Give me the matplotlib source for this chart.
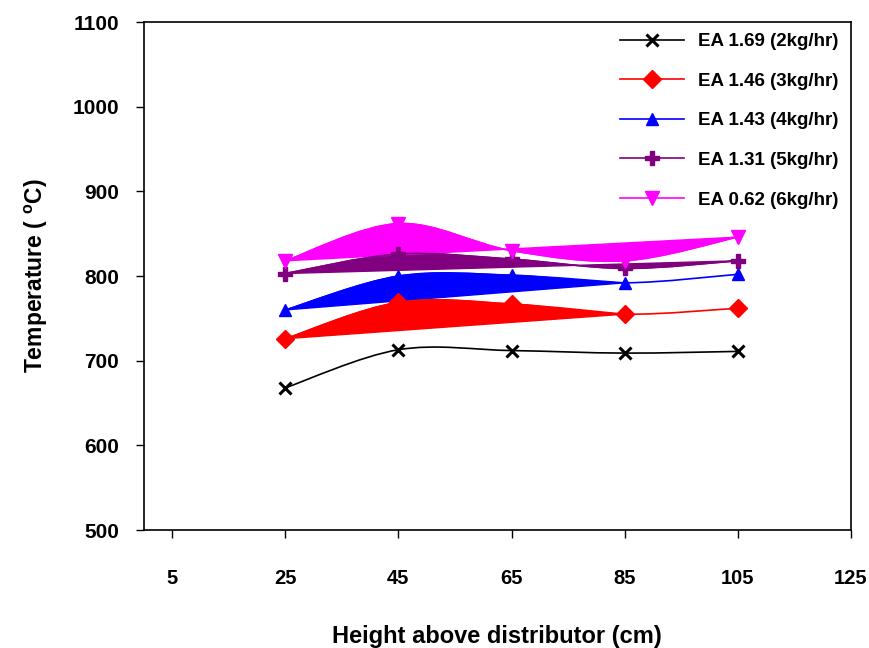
import numpy as np
import matplotlib
matplotlib.use("Agg")
import matplotlib.pyplot as plt
from matplotlib.path import Path
from matplotlib.patches import PathPatch

# data
heights = [25, 45, 65, 85, 105]
ea169 = [668, 713, 712, 709, 711]
ea146 = [726, 769, 767, 755, 762]
ea143 = [760, 800, 801, 792, 802]
ea131 = [803, 826, 820, 809, 818]
ea062 = [818, 862, 830, 818, 846]

labels = ["EA 1.69 (2kg/hr)", "EA 1.46 (3kg/hr)", "EA 1.43 (4kg/hr)",
          "EA 1.31 (5kg/hr)", "EA 0.62 (6kg/hr)"]
series = [ea169, ea146, ea143, ea131, ea062]
colors = ["black", "red", "blue", "purple", "magenta"]
markers = ["x", "D", "^", "P", "v"]
msizes = [8, 9, 9, 10, 10]
# last point index of the closed (filled) part of each smoothed line
fill_to = [None, 3, 3, 4, 4]


def smooth_path(xs, ys, close=False):
    # bezier path through the points (excel style smoothing)
    pts = np.column_stack([xs, ys]).astype(float)
    n = len(pts)
    verts = [pts[0]]
    codes = [Path.MOVETO]
    for i in range(n - 1):
        p0 = pts[max(i - 1, 0)]
        p1 = pts[i]
        p2 = pts[i + 1]
        p3 = pts[min(i + 2, n - 1)]
        c1 = p1 + (p2 - p0) / 6.0
        c2 = p2 - (p3 - p1) / 6.0
        verts += [c1, c2, p2]
        codes += [Path.CURVE4] * 3
    if close:
        verts.append(pts[0])
        codes.append(Path.CLOSEPOLY)
    return Path(verts, codes)


plt.rcParams['font.family'] = ['Liberation Sans', 'DejaVu Sans']
plt.rcParams['font.weight'] = 'bold'
plt.rcParams['mathtext.fontset'] = 'custom'
plt.rcParams['mathtext.bf'] = 'Liberation Sans:bold'
plt.rcParams['mathtext.rm'] = 'Liberation Sans:bold'

fig = plt.figure(figsize=(8.69, 6.48), dpi=100)
ax = fig.add_axes([0.1657, 0.182, 0.8133, 0.784])

for ys, c, m, ms, k, lab in zip(series, colors, markers, msizes, fill_to, labels):
    if k is not None:
        ax.add_patch(PathPatch(smooth_path(heights[:k + 1], ys[:k + 1], close=True),
                               facecolor=c, edgecolor=c, lw=1, zorder=2))
    ax.add_patch(PathPatch(smooth_path(heights, ys), facecolor='none',
                           edgecolor=c, lw=1.2, zorder=3))
    ax.plot(heights, ys, ls='none', marker=m, color=c, ms=ms, mew=2.2 if m == 'x' else 1,
            zorder=4)
    ax.plot([], [], color=c, marker=m, ms=ms, mew=2.2 if m == 'x' else 1, lw=1.2, label=lab)

ax.set_xlim(0, 125)
ax.set_ylim(500, 1100)
ax.set_xticks(range(5, 126, 20))
ax.set_yticks(range(500, 1101, 100))
ax.tick_params(axis='x', direction='out', length=6, width=1, pad=22, labelsize=14.5)
ax.tick_params(axis='y', direction='out', length=6, width=1, pad=12, labelsize=15)
for lab in ax.get_xticklabels() + ax.get_yticklabels():
    lab.set_fontweight('bold')
for sp in ax.spines.values():
    sp.set_linewidth(1.2)

ax.set_xlabel("Height above distributor (cm)", fontsize=17, fontweight='bold',
              labelpad=27)
ax.set_ylabel(r"Temperature ( $^{\mathbf{o}}$C)", fontsize=16.5, fontweight='bold',
              labelpad=16)

leg = ax.legend(loc='upper left', bbox_to_anchor=(620 / 869, 1 - 33 / 648),
                bbox_transform=fig.transFigure, frameon=False, fontsize=13.5,
                handlelength=3.4, labelspacing=1.2, handletextpad=0.75,
                borderpad=0, borderaxespad=0)
for t in leg.get_texts():
    t.set_fontweight('bold')

fig.savefig("out.png", dpi=100)
